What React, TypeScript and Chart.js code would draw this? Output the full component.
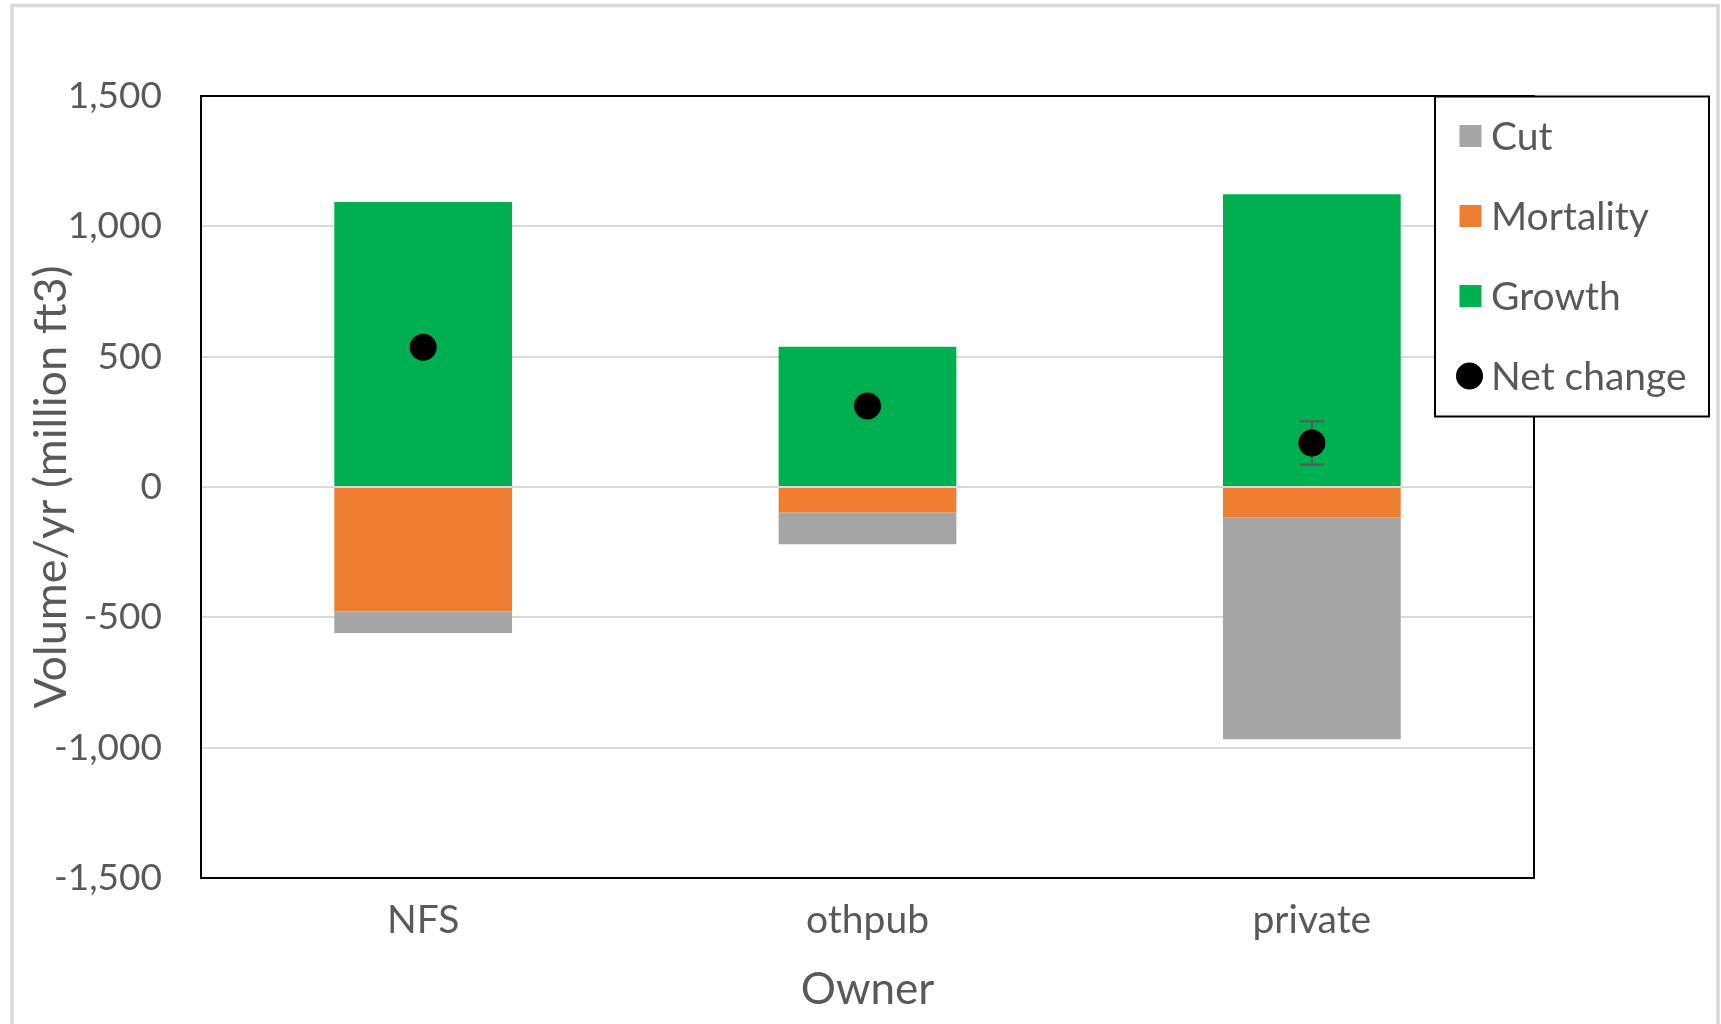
import React, { useEffect, useRef } from 'react';
import { Chart, registerables } from 'chart.js';

Chart.register(...registerables);

// Volume change per year by owner class (million ft3)
const owners = ['NFS', 'othpub', 'private'];
const growth = [1093, 538, 1123];
const mortality = [-478, -98, -117];
const cut = [-82, -122, -851];
const netChange = [536, 311, 169];
const netChangeError = [0, 0, 83];
const yTickValues = [-1500, -1000, -500, 0, 500, 1000, 1500];
const legendOrder = ['Cut', 'Mortality', 'Growth', 'Net change'];

const FONT = 'Lato, "Open Sans", "DejaVu Sans", sans-serif';
const TEXT = '#595959';
const GRID = '#d9d9d9';

const W = 1721;
const H = 1024;

// Light outer frame of the chart area
const framePlugin = {
  id: 'frame',
  beforeDraw(chart: any) {
    const { ctx } = chart;
    ctx.save();
    ctx.fillStyle = '#ffffff';
    ctx.fillRect(0, 0, chart.width, chart.height);
    ctx.strokeStyle = GRID;
    ctx.lineWidth = 3.5;
    ctx.strokeRect(12, 5.5, 1706, 1040);
    ctx.restore();
  },
};

// Error bars for the net change markers, drawn under the markers
const errorBarPlugin = {
  id: 'errorBars',
  beforeDatasetDraw(chart: any, args: any) {
    const ds = chart.data.datasets[args.index];
    if (!ds.errors) return;
    const { ctx } = chart;
    const y = chart.scales.y;
    const meta = chart.getDatasetMeta(args.index);
    ctx.save();
    ctx.strokeStyle = TEXT;
    ctx.lineWidth = 2;
    meta.data.forEach((pt: any, i: number) => {
      const e = ds.errors[i];
      if (!e) return;
      const v = ds.data[i];
      const yTop = y.getPixelForValue(v + e);
      const yBot = y.getPixelForValue(v - e);
      const x = pt.x;
      ctx.beginPath();
      ctx.moveTo(x, yTop);
      ctx.lineTo(x, yBot);
      ctx.moveTo(x - 12, yTop);
      ctx.lineTo(x + 12, yTop);
      ctx.moveTo(x - 12, yBot);
      ctx.lineTo(x + 12, yBot);
      ctx.stroke();
    });
    ctx.restore();
  },
};

// Plot border and boxed legend
const boxPlugin = {
  id: 'boxes',
  afterDraw(chart: any) {
    const { ctx, chartArea } = chart;
    ctx.save();
    ctx.strokeStyle = '#000000';
    ctx.lineWidth = 2;
    ctx.strokeRect(chartArea.left, chartArea.top, chartArea.right - chartArea.left, chartArea.bottom - chartArea.top);

    const box = { x: 1435, y: 96.5, w: 274, h: 320 };
    ctx.fillStyle = '#ffffff';
    ctx.fillRect(box.x, box.y, box.w, box.h);
    ctx.strokeRect(box.x, box.y, box.w, box.h);

    const rowY0 = 136;
    const rowStep = 80;
    const markerX = 1470.5;
    const textX = 1491;
    ctx.font = `39px ${FONT}`;
    ctx.textBaseline = 'middle';
    ctx.textAlign = 'left';
    legendOrder.forEach((label, i) => {
      const ds = chart.data.datasets.find((d: any) => d.label === label);
      if (!ds) return;
      const cy = rowY0 + i * rowStep;
      if (ds.type === 'line') {
        ctx.fillStyle = ds.pointBackgroundColor;
        ctx.beginPath();
        ctx.arc(markerX - 1, cy, 13.5, 0, Math.PI * 2);
        ctx.fill();
      } else {
        ctx.fillStyle = ds.backgroundColor;
        ctx.fillRect(markerX - 11, cy - 11, 22, 22);
      }
      ctx.fillStyle = TEXT;
      ctx.fillText(label, textX, cy + 1);
    });
    ctx.restore();
  },
};

export default function App() {
  const canvasRef = useRef<HTMLCanvasElement | null>(null);

  useEffect(() => {
    document.body.style.margin = '0';
    const canvas = canvasRef.current;
    if (!canvas) return;

    const chart = new Chart(canvas, {
      type: 'bar',
      data: {
        labels: owners,
        datasets: [
          { type: 'bar', label: 'Growth', data: growth, backgroundColor: '#00b050', stack: 'flows' },
          { type: 'bar', label: 'Mortality', data: mortality, backgroundColor: '#ed7d31', stack: 'flows' },
          { type: 'bar', label: 'Cut', data: cut, backgroundColor: '#a5a5a5', stack: 'flows' },
          {
            type: 'line',
            label: 'Net change',
            data: netChange,
            errors: netChangeError,
            stack: 'net',
            order: -1,
            showLine: false,
            pointRadius: 13.5,
            pointBackgroundColor: '#000000',
            pointBorderWidth: 0,
            borderColor: '#000000',
          } as any,
        ],
      },
      options: {
        responsive: false,
        animation: false,
        events: [],
        datasets: { bar: { barPercentage: 0.4, categoryPercentage: 1.0, borderWidth: 0 } },
        layout: { padding: { top: 96, right: 187, bottom: 0, left: 0 } },
        plugins: {
          legend: { display: false },
          tooltip: { enabled: false },
          title: { display: false },
        },
        scales: {
          x: {
            stacked: true,
            offset: true,
            grid: { display: false, drawTicks: false },
            border: { display: false },
            ticks: { color: TEXT, font: { family: FONT, size: 39 }, padding: 19 },
            title: {
              display: true,
              text: 'Owner',
              color: TEXT,
              font: { family: FONT, size: 44 },
              padding: { top: 0, bottom: 8 },
            },
            afterFit: (s: any) => {
              s.height = 146;
            },
          },
          y: {
            stacked: true,
            min: yTickValues[0],
            max: yTickValues[yTickValues.length - 1],
            afterBuildTicks: (s: any) => {
              s.ticks = yTickValues.map((v) => ({ value: v }));
            },
            grid: { color: GRID, lineWidth: 2, drawTicks: false },
            border: { display: false },
            ticks: {
              color: TEXT,
              font: { family: FONT, size: 37 },
              padding: 39,
              callback: (v: any) => Number(v).toLocaleString('en-US'),
            },
            title: {
              display: true,
              text: 'Volume/yr (million ft3)',
              color: TEXT,
              font: { family: FONT, size: 45 },
              padding: { top: 24, bottom: 0 },
            },
            afterFit: (s: any) => {
              s.width = 201;
            },
          },
        },
      } as any,
      plugins: [framePlugin, errorBarPlugin, boxPlugin],
    });

    return () => {
      chart.destroy();
    };
  }, []);

  return <canvas ref={canvasRef} width={W} height={H} style={{ display: 'block' }} />;
}
